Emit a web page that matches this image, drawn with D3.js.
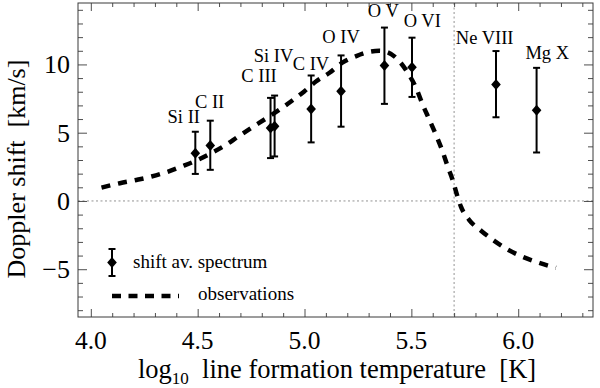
<!DOCTYPE html>
<html>
<head>
<meta charset="utf-8">
<script src="https://cdn.jsdelivr.net/npm/d3@7"></script>
<style>
  body { margin: 0; background: #fff; }
  svg { display: block; font-family: "Liberation Serif", "DejaVu Serif", serif; }
</style>
</head>
<body>
<svg id="chart"></svg>
<script>
// Line data: ion, formation temperature, Doppler shift and error range
var ions  = ["Si II", "C II", "C III", "Si IV", "C IV", "O IV", "O V", "O VI", "Ne VIII", "Mg X"];
var logT  = [4.489, 4.559, 4.841, 4.860, 5.031, 5.171, 5.374, 5.503, 5.896, 6.086];
var shift = [3.50, 4.07, 5.34, 5.47, 6.74, 8.04, 9.93, 9.80, 8.53, 6.64];
var errLo = [1.98, 2.28, 3.14, 3.26, 4.29, 5.44, 7.11, 7.62, 6.13, 3.55];
var errHi = [5.07, 5.88, 7.55, 7.72, 9.19, 10.66, 12.70, 11.96, 10.98, 9.75];

// where the ion names sit (data units: centre, baseline)
var labelT = [4.435, 4.556, 4.787, 4.855, 5.030, 5.171, 5.369, 5.551, 5.843, 6.136];
var labelV = [5.74, 6.84, 8.68, 10.15, 9.56, 11.54, 13.46, 12.72, 11.47, 10.37];

// Dashed "observations" curve
var curveT = [4.05, 4.136, 4.214, 4.284, 4.354, 4.424, 4.494, 4.564, 4.626, 4.688, 4.751, 4.821,
              4.883, 4.938, 5.000, 5.055, 5.117, 5.179, 5.242, 5.312, 5.350, 5.382, 5.436, 5.483,
              5.522, 5.553, 5.584, 5.615, 5.646, 5.670, 5.693, 5.716, 5.732, 5.771, 5.826, 5.888,
              5.950, 6.013, 6.083, 6.176];
var curveV = [0.98, 1.30, 1.54, 1.79, 2.11, 2.52, 2.96, 3.51, 4.05, 4.70, 5.35, 6.05,
              6.69, 7.30, 8.04, 8.77, 9.39, 10.15, 10.61, 10.95, 11.00, 10.93, 10.37, 9.39,
              8.29, 7.06, 5.96, 4.85, 3.63, 2.52, 1.54, 0.32, -0.42, -1.40, -2.18, -2.92,
              -3.55, -4.04, -4.46, -4.90];

var xMajor = [4.0, 4.5, 5.0, 5.5, 6.0];
var yMajor = [-5, 0, 5, 10];
var tempLimit = 5.7;

// Canvas
var width = 600, height = 388;
var margin = {top: 3, right: 7, bottom: 71, left: 78};
var plotW = width - margin.left - margin.right,
    plotH = height - margin.top - margin.bottom;

var svg = d3.select("#chart")
    .attr("width", width)
    .attr("height", height);

var g = svg.append("g")
    .attr("transform", "translate(" + margin.left + "," + margin.top + ")");

var xScale = d3.scaleLinear().domain([3.94, 6.35]).range([0, plotW]);
var yScale = d3.scaleLinear().domain([-8.5, 14.5]).range([plotH, 0]);

var axisColor = "#3a3a3a";

// reference lines (dotted)
g.append("line")
    .attr("x1", 0).attr("x2", plotW)
    .attr("y1", yScale(0)).attr("y2", yScale(0))
    .attr("stroke", "#777").attr("stroke-width", 0.8)
    .attr("stroke-dasharray", "2,2.5");
g.append("line")
    .attr("x1", xScale(tempLimit)).attr("x2", xScale(tempLimit))
    .attr("y1", 0).attr("y2", plotH)
    .attr("stroke", "#777").attr("stroke-width", 0.8)
    .attr("stroke-dasharray", "2,2.5");

// ticks on all four sides, pointing inward
var xMinor = d3.range(40, 64).map(function(d) { return d / 10; })
    .filter(function(d) { return xMajor.indexOf(d) < 0; });
var yMinor = d3.range(-8, 15).filter(function(d) { return yMajor.indexOf(d) < 0; });

function addAxis(axis, transform) {
  var a = g.append("g").attr("transform", transform).call(axis);
  a.select(".domain").remove();
  a.selectAll("line").attr("stroke", axisColor).attr("stroke-width", 0.9);
  a.selectAll("text").remove();
}
// majors
addAxis(d3.axisBottom(xScale).tickValues(xMajor).tickSize(-8), "translate(0," + plotH + ")");
addAxis(d3.axisTop(xScale).tickValues(xMajor).tickSize(-8), "translate(0,0)");
addAxis(d3.axisLeft(yScale).tickValues(yMajor).tickSize(-9), "translate(0,0)");
addAxis(d3.axisRight(yScale).tickValues(yMajor).tickSize(-9), "translate(" + plotW + ",0)");
// minors
addAxis(d3.axisBottom(xScale).tickValues(xMinor).tickSize(-4), "translate(0," + plotH + ")");
addAxis(d3.axisTop(xScale).tickValues(xMinor).tickSize(-4), "translate(0,0)");
addAxis(d3.axisLeft(yScale).tickValues(yMinor).tickSize(-5), "translate(0,0)");
addAxis(d3.axisRight(yScale).tickValues(yMinor).tickSize(-5), "translate(" + plotW + ",0)");

// frame
g.append("rect")
    .attr("x", 0).attr("y", 0)
    .attr("width", plotW).attr("height", plotH)
    .attr("fill", "none")
    .attr("stroke", axisColor).attr("stroke-width", 1);

// tick labels
g.selectAll(".xlab").data(xMajor).enter().append("text")
    .attr("class", "xlab")
    .attr("x", function(d) { return xScale(d); })
    .attr("y", plotH + 32)
    .attr("text-anchor", "middle")
    .attr("font-size", 25.5)
    .text(function(d) { return d3.format(".1f")(d); });

g.selectAll(".ylab").data(yMajor).enter().append("text")
    .attr("class", "ylab")
    .attr("x", -8)
    .attr("y", function(d) { return yScale(d); })
    .attr("dy", "0.34em")
    .attr("text-anchor", "end")
    .attr("font-size", 26)
    .text(function(d) { return d < 0 ? "\u2212" + Math.abs(d) : d; });

// axis titles
var xt = svg.append("text")
    .attr("x", 337)
    .attr("y", 378)
    .attr("text-anchor", "middle")
    .attr("font-size", 26.5)
    .attr("xml:space", "preserve");
xt.append("tspan").text("log");
xt.append("tspan").attr("font-size", 17).attr("dy", 6).text("10");
xt.append("tspan").attr("dy", -6).text("  line formation temperature  [K]");

svg.append("text")
    .attr("transform", "translate(25,169) rotate(-90)")
    .attr("text-anchor", "middle")
    .attr("font-size", 26)
    .attr("xml:space", "preserve")
    .text("Doppler shift  [km/s]");

// dashed curve
var line = d3.line()
    .x(function(d, i) { return xScale(curveT[i]); })
    .y(function(d) { return yScale(d); })
    .curve(d3.curveMonotoneX);

g.append("path")
    .datum(curveV)
    .attr("d", line)
    .attr("fill", "none")
    .attr("stroke", "#000")
    .attr("stroke-width", 4.5)
    .attr("stroke-dasharray", "9,8");

// diamond marker
var diamond = {
  draw: function(ctx, size) {
    var w = 4.8, h = 5.5;
    ctx.moveTo(0, -h); ctx.lineTo(w, 0); ctx.lineTo(0, h); ctx.lineTo(-w, 0); ctx.closePath();
  }
};

var pts = g.selectAll(".pt").data(ions).enter().append("g").attr("class", "pt");

pts.append("line")
    .attr("x1", function(d, i) { return xScale(logT[i]); })
    .attr("x2", function(d, i) { return xScale(logT[i]); })
    .attr("y1", function(d, i) { return yScale(errLo[i]); })
    .attr("y2", function(d, i) { return yScale(errHi[i]); })
    .attr("stroke", "#000").attr("stroke-width", 2);
[errLo, errHi].forEach(function(arr) {
  pts.append("line")
      .attr("x1", function(d, i) { return xScale(logT[i]) - 3.5; })
      .attr("x2", function(d, i) { return xScale(logT[i]) + 3.5; })
      .attr("y1", function(d, i) { return yScale(arr[i]); })
      .attr("y2", function(d, i) { return yScale(arr[i]); })
      .attr("stroke", "#000").attr("stroke-width", 2);
});
pts.append("path")
    .attr("d", d3.symbol().type(diamond))
    .attr("transform", function(d, i) {
      return "translate(" + xScale(logT[i]) + "," + yScale(shift[i]) + ")";
    })
    .attr("fill", "#000");

g.selectAll(".ion").data(ions).enter().append("text")
    .attr("class", "ion")
    .attr("x", function(d, i) { return xScale(labelT[i]); })
    .attr("y", function(d, i) { return yScale(labelV[i]); })
    .attr("text-anchor", "middle")
    .attr("font-size", 18.5)
    .text(function(d) { return d; });

// legend
var leg = svg.append("g");
leg.append("line")
    .attr("x1", 112).attr("x2", 112).attr("y1", 249).attr("y2", 276)
    .attr("stroke", "#000").attr("stroke-width", 2);
leg.append("line").attr("x1", 108.5).attr("x2", 115.5).attr("y1", 249).attr("y2", 249)
    .attr("stroke", "#000").attr("stroke-width", 2);
leg.append("line").attr("x1", 108.5).attr("x2", 115.5).attr("y1", 276).attr("y2", 276)
    .attr("stroke", "#000").attr("stroke-width", 2);
leg.append("path")
    .attr("d", d3.symbol().type(diamond))
    .attr("transform", "translate(112,262.5)")
    .attr("fill", "#000");
leg.append("text")
    .attr("x", 133).attr("y", 268)
    .attr("font-size", 19)
    .text("shift av. spectrum");

leg.append("line")
    .attr("x1", 112).attr("x2", 179).attr("y1", 296).attr("y2", 296)
    .attr("stroke", "#000").attr("stroke-width", 4.5)
    .attr("stroke-dasharray", "9,7.5");
leg.append("text")
    .attr("x", 198).attr("y", 300)
    .attr("font-size", 19)
    .text("observations");
</script>
</body>
</html>
